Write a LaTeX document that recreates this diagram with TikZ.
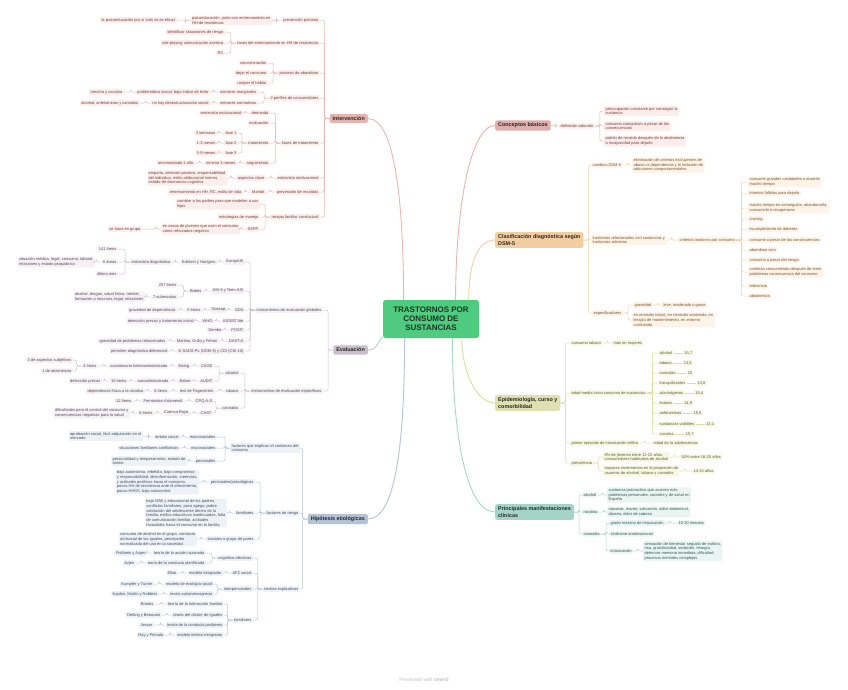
\documentclass[tikz,border=0pt]{standalone}
\usepackage{fontspec}
\setmainfont{Liberation Sans}
\usepackage{xcolor}
\definecolor{cRoot}{HTML}{4FCB7F}
\definecolor{cRootText}{HTML}{1C3526}
\definecolor{cIntLine}{HTML}{E6B7B3}
\definecolor{cIntFill}{HTML}{FBEFEE}
\definecolor{cIntText}{HTML}{7A3B36}
\definecolor{cIntMain}{HTML}{E3B5B1}
\definecolor{cEvLine}{HTML}{CCC1CC}
\definecolor{cEvFill}{HTML}{F4F0F4}
\definecolor{cEvText}{HTML}{5A4A5A}
\definecolor{cEvMain}{HTML}{CABECB}
\definecolor{cHipLine}{HTML}{B4C4D6}
\definecolor{cHipFill}{HTML}{EEF2F7}
\definecolor{cHipText}{HTML}{3E4E60}
\definecolor{cHipMain}{HTML}{B3C3D4}
\definecolor{cConLine}{HTML}{E8B4B0}
\definecolor{cConFill}{HTML}{FBEDEC}
\definecolor{cConText}{HTML}{7A3B36}
\definecolor{cConMain}{HTML}{DFAFAB}
\definecolor{cClaLine}{HTML}{F4D2A6}
\definecolor{cClaFill}{HTML}{FDF4E9}
\definecolor{cClaText}{HTML}{7A5428}
\definecolor{cClaMain}{HTML}{F2CDA0}
\definecolor{cEpiLine}{HTML}{DCDDA2}
\definecolor{cEpiFill}{HTML}{F7F7E6}
\definecolor{cEpiText}{HTML}{5E5E2C}
\definecolor{cEpiMain}{HTML}{DEE0B0}
\definecolor{cPriLine}{HTML}{A9D7CA}
\definecolor{cPriFill}{HTML}{EAF5F2}
\definecolor{cPriText}{HTML}{2F5A50}
\definecolor{cPriMain}{HTML}{A3D5C6}
\usepackage{tikz}
\usetikzlibrary{positioning}
\tikzset{
  node-leaf/.style={rounded corners=1.2pt,inner xsep=1.4pt,inner ysep=1.1pt,
    align=left,font=\fontsize{4}{4.7}\selectfont},
  node-topic/.style={rounded corners=2pt,inner xsep=3pt,inner ysep=2.6pt,
    align=left,text=black!85,font=\fontsize{5.4}{6.4}\selectfont\bfseries},
  node-root/.style={rounded corners=2.5pt,fill=cRoot,text=cRootText,align=center,
    minimum width=96pt,minimum height=38pt,font=\fontsize{8}{9.2}\selectfont\bfseries},
  % una rama por color, como en el mapa
  leaf-int/.style={node-leaf,fill=cIntFill,text=cIntText,anchor=east},
  leaf-ev/.style={node-leaf,fill=cEvFill,text=cEvText,anchor=east},
  leaf-hip/.style={node-leaf,fill=cHipFill,text=cHipText,anchor=east},
  leaf-con/.style={node-leaf,fill=cConFill,text=cConText,anchor=west},
  leaf-cla/.style={node-leaf,fill=cClaFill,text=cClaText,anchor=west},
  leaf-epi/.style={node-leaf,fill=cEpiFill,text=cEpiText,anchor=west},
  leaf-pri/.style={node-leaf,fill=cPriFill,text=cPriText,anchor=west},
  link-int/.style={draw=cIntLine,line width=0.5pt},
  link-ev/.style={draw=cEvLine,line width=0.5pt},
  link-hip/.style={draw=cHipLine,line width=0.5pt},
  link-con/.style={draw=cConLine,line width=0.5pt},
  link-cla/.style={draw=cClaLine,line width=0.5pt},
  link-epi/.style={draw=cEpiLine,line width=0.5pt},
  link-pri/.style={draw=cPriLine,line width=0.5pt},
  go-left/.style={rounded corners=2pt,to path={(\tikztostart) -- ++(-5,0) |- (\tikztotarget)}},
  go-right/.style={rounded corners=2pt,to path={(\tikztostart) -- ++(5,0) |- (\tikztotarget)}},
}
\begin{document}
\begin{tikzpicture}[x=1pt,y=-1pt]
  \fill[white] (0,0) rectangle (848,689);
  \useasboundingbox (0,0) rectangle (848,689);

  \node[node-root] (root) at (431,319) {TRASTORNOS POR\\CONSUMO DE\\SUSTANCIAS};

  % Intervención
  \node[node-topic,fill=cIntMain,anchor=east] (int) at (368,118.5) {Intervención};
  \node[leaf-int] (int-pp) at (320,20) {prevención primaria};
  \node[leaf-int] (int-pp1) at (272,20.5) {psicoeducación, junto con entrenamiento en\\HH de resistencia};
  \node[leaf-int] (int-pp2) at (177,20) {la psicoeducación por sí sola no es eficaz};
  \node[leaf-int] (int-fe) at (320,43) {fases del entrenamiento en HH de resistencia};
  \node[leaf-int] (int-fe1) at (225,32) {identificar situaciones de riesgo};
  \node[leaf-int] (int-fe2) at (225,43) {role-playing comunicación asertiva};
  \node[leaf-int] (int-fe3) at (225,53) {RC};
  \node[leaf-int] (int-pa) at (320,73) {proceso de abandono};
  \node[leaf-int] (int-pa1) at (268,63) {concienciación};
  \node[leaf-int] (int-pa2) at (268,73) {dejar el consumo};
  \node[leaf-int] (int-pa3) at (268,83) {romper el hábito};
  \node[leaf-int] (int-pc) at (320,98) {2 perfiles de consumidores};
  \node[leaf-int] (int-pc1) at (258,92) {menores marginales};
  \node[leaf-int] (int-pc1a) at (210,92) {problemática social, bajo índice de éxito};
  \node[leaf-int] (int-pc1b) at (124,92) {heroína y cocaína};
  \node[leaf-int] (int-pc2) at (258,103) {menores normativos};
  \node[leaf-int] (int-pc2a) at (210,103) {no hay desestructuración social};
  \node[leaf-int] (int-pc2b) at (140,103) {alcohol, anfetaminas y cannabis};
  \node[leaf-int] (int-ft) at (320,143) {fases de tratamiento};
  \node[leaf-int] (int-ft1) at (270,113) {demanda};
  \node[leaf-int] (int-ft1a) at (243,113) {entrevista motivacional};
  \node[leaf-int] (int-ft2) at (270,123) {evaluación};
  \node[leaf-int] (int-ft3) at (270,143) {tratamiento};
  \node[leaf-int] (int-f1) at (238,133) {fase 1};
  \node[leaf-int] (int-f1a) at (217,133) {3 semanas};
  \node[leaf-int] (int-f2) at (238,143) {fase 2};
  \node[leaf-int] (int-f2a) at (217,143) {1-3 meses};
  \node[leaf-int] (int-f3) at (238,153) {fase 3};
  \node[leaf-int] (int-f3a) at (217,153) {3-9 meses};
  \node[leaf-int] (int-ft4) at (270,163) {seguimiento};
  \node[leaf-int] (int-ft4a) at (237,163) {mínimo 3 meses};
  \node[leaf-int] (int-ft4b) at (195,163) {recomendado 1 año};
  \node[leaf-int] (int-em) at (320,178) {entrevista motivacional};
  \node[leaf-int] (int-em1) at (266,178) {aspectos clave};
  \node[leaf-int] (int-em1a) at (227,178) {empatía, atención positiva, responsabilidad\\del individuo, estilo atribucional interno,\\estado de disonancia cognitiva};
  \node[leaf-int] (int-pr) at (320,192) {prevención de recaídas};
  \node[leaf-int] (int-pr1) at (266,192) {Marlatt};
  \node[leaf-int] (int-pr1a) at (243,192) {entrenamiento en HH, RC, estilo de vida};
  \node[leaf-int] (int-tf) at (320,217) {terapia familiar conductual};
  \node[leaf-int] (int-tf1) at (260,204) {cambiar a los padres para que modelen a sus\\hijos};
  \node[leaf-int] (int-tf2) at (260,217) {estrategias de manejo};
  \node[leaf-int] (int-tf3) at (260,229) {SSPP};
  \node[leaf-int] (int-tf3a) at (240,229) {en casos de jóvenes que usen el consumo\\como reforzados negativo};
  \node[leaf-int] (int-tf3b) at (142,229) {se hace en grupo};

  \path[link-int] (int.west) edge[go-left] (int-pp.east) edge[go-left] (int-fe.east)
    edge[go-left] (int-pa.east) edge[go-left] (int-pc.east) edge[go-left] (int-ft.east)
    edge[go-left] (int-em.east) edge[go-left] (int-pr.east) edge[go-left] (int-tf.east);
  \path[link-int] (int-pp.west) edge[go-left] (int-pp1.east);
  \path[link-int] (int-pp1.west) edge[go-left] (int-pp2.east);
  \path[link-int] (int-fe.west) edge[go-left] (int-fe1.east) edge[go-left] (int-fe2.east) edge[go-left] (int-fe3.east);
  \path[link-int] (int-pa.west) edge[go-left] (int-pa1.east) edge[go-left] (int-pa2.east) edge[go-left] (int-pa3.east);
  \path[link-int] (int-pc.west) edge[go-left] (int-pc1.east) edge[go-left] (int-pc2.east);
  \path[link-int] (int-pc1.west) edge[go-left] (int-pc1a.east);
  \path[link-int] (int-pc1a.west) edge[go-left] (int-pc1b.east);
  \path[link-int] (int-pc2.west) edge[go-left] (int-pc2a.east);
  \path[link-int] (int-pc2a.west) edge[go-left] (int-pc2b.east);
  \path[link-int] (int-ft.west) edge[go-left] (int-ft1.east) edge[go-left] (int-ft2.east)
    edge[go-left] (int-ft3.east) edge[go-left] (int-ft4.east);
  \path[link-int] (int-ft1.west) edge[go-left] (int-ft1a.east);
  \path[link-int] (int-ft3.west) edge[go-left] (int-f1.east) edge[go-left] (int-f2.east) edge[go-left] (int-f3.east);
  \path[link-int] (int-f1.west) edge[go-left] (int-f1a.east);
  \path[link-int] (int-f2.west) edge[go-left] (int-f2a.east);
  \path[link-int] (int-f3.west) edge[go-left] (int-f3a.east);
  \path[link-int] (int-ft4.west) edge[go-left] (int-ft4a.east);
  \path[link-int] (int-ft4a.west) edge[go-left] (int-ft4b.east);
  \path[link-int] (int-em.west) edge[go-left] (int-em1.east);
  \path[link-int] (int-em1.west) edge[go-left] (int-em1a.east);
  \path[link-int] (int-pr.west) edge[go-left] (int-pr1.east);
  \path[link-int] (int-pr1.west) edge[go-left] (int-pr1a.east);
  \path[link-int] (int-tf.west) edge[go-left] (int-tf1.east) edge[go-left] (int-tf2.east) edge[go-left] (int-tf3.east);
  \path[link-int] (int-tf3.west) edge[go-left] (int-tf3a.east);
  \path[link-int] (int-tf3a.west) edge[go-left] (int-tf3b.east);

  % Evaluación
  \node[node-topic,fill=cEvMain,anchor=east] (ev) at (368,350) {Evaluación};
  \node[leaf-ev] (ev-ig) at (323,310) {instrumentos de evaluación globales};
  \node[leaf-ev] (ev-eu) at (245,262) {EuropASI};
  \node[leaf-ev] (ev-eu1) at (217,262) {Kokkevi y Hartgers};
  \node[leaf-ev] (ev-eu2) at (172,262) {entrevista diagnóstica};
  \node[leaf-ev] (ev-eu3) at (118,249) {141 ítems};
  \node[leaf-ev] (ev-eu4) at (118,262) {6 áreas};
  \node[leaf-ev] (ev-eu4a) at (95,262) {situación médica, legal, consumo, laboral,\\relaciones y estado psiquiátrico};
  \node[leaf-ev] (ev-eu5) at (118,274) {último mes};
  \node[leaf-ev] (ev-as) at (245,291) {ASI-6 y Teen-ASI};
  \node[leaf-ev] (ev-as1) at (203,291) {Bobes};
  \node[leaf-ev] (ev-as2) at (178,285) {257 ítems};
  \node[leaf-ev] (ev-as3) at (178,297) {7 subescalas};
  \node[leaf-ev] (ev-as3a) at (145,297) {alcohol, drogas, salud física, mental,\\formación o recursos, legal, relaciones};
  \node[leaf-ev] (ev-sd) at (245,310) {SDS};
  \node[leaf-ev] (ev-sd1) at (227,310) {Gossop};
  \node[leaf-ev] (ev-sd2) at (202,310) {5 ítems};
  \node[leaf-ev] (ev-sd3) at (177,310) {gravedad de dependencia};
  \node[leaf-ev] (ev-al) at (245,321) {ASSIST-lite};
  \node[leaf-ev] (ev-al1) at (214,321) {WHO};
  \node[leaf-ev] (ev-al2) at (195,321) {detección precoz y tratamiento inicial};
  \node[leaf-ev] (ev-po) at (245,330) {POSIT};
  \node[leaf-ev] (ev-po1) at (223,330) {Dembo};
  \node[leaf-ev] (ev-da) at (245,341) {DAST-A};
  \node[leaf-ev] (ev-da1) at (219,341) {Martino, Grillo y Fehon};
  \node[leaf-ev] (ev-da2) at (167,341) {gravedad de problemas relacionados};
  \node[leaf-ev] (ev-ks) at (245,351) {K-SADS-PL (DSM-5) y CDI (CIE-10)};
  \node[leaf-ev] (ev-ks1) at (169,351) {permiten diagnóstico diferencial};
  \node[leaf-ev] (ev-ie) at (323,391) {instrumentos de evaluación específicos};
  \node[leaf-ev] (ev-alc) at (240,373) {alcohol};
  \node[leaf-ev] (ev-tab) at (240,391) {tabaco};
  \node[leaf-ev] (ev-can) at (240,408) {cannabis};
  \node[leaf-ev] (ev-cage) at (214,366) {CAGE};
  \node[leaf-ev] (ev-cage1) at (191,366) {Ewing};
  \node[leaf-ev] (ev-cage2) at (169,366) {cuestionario heteroadministrado};
  \node[leaf-ev] (ev-cage3) at (98,366) {4 ítems};
  \node[leaf-ev] (ev-cage4) at (73,360) {3 de aspectos subjetivos};
  \node[leaf-ev] (ev-cage5) at (73,371) {1 de abstinencia};
  \node[leaf-ev] (ev-aud) at (214,381) {AUDIT};
  \node[leaf-ev] (ev-aud1) at (192,381) {Babor};
  \node[leaf-ev] (ev-aud2) at (170,381) {autoadministrado};
  \node[leaf-ev] (ev-aud3) at (128,381) {10 ítems};
  \node[leaf-ev] (ev-aud4) at (102,381) {detección precoz};
  \node[leaf-ev] (ev-fag) at (215,391) {test de Fagerström};
  \node[leaf-ev] (ev-fag1) at (169,391) {6 ítems};
  \node[leaf-ev] (ev-fag2) at (145,391) {dependencia física a la nicotina};
  \node[leaf-ev] (ev-cpq) at (214,401) {CPQ-A-S};
  \node[leaf-ev] (ev-cpq1) at (184,401) {Fernández-Artamendi};
  \node[leaf-ev] (ev-cpq2) at (133,401) {12 ítems};
  \node[leaf-ev] (ev-cast) at (213,413) {CAST};
  \node[leaf-ev] (ev-cast1) at (190,413) {Cuenca-Royo};
  \node[leaf-ev] (ev-cast2) at (154,413) {6 ítems};
  \node[leaf-ev] (ev-cast3) at (130,413) {dificultades para el control del consumo y\\consecuencias negativas para la salud};

  \path[link-ev] (ev.west) edge[go-left] (ev-ig.east) edge[go-left] (ev-ie.east);
  \path[link-ev] (ev-ig.west) edge[go-left] (ev-eu.east) edge[go-left] (ev-as.east) edge[go-left] (ev-sd.east)
    edge[go-left] (ev-al.east) edge[go-left] (ev-po.east) edge[go-left] (ev-da.east) edge[go-left] (ev-ks.east);
  \path[link-ev] (ev-eu.west) edge[go-left] (ev-eu1.east);
  \path[link-ev] (ev-eu1.west) edge[go-left] (ev-eu2.east);
  \path[link-ev] (ev-eu2.west) edge[go-left] (ev-eu3.east) edge[go-left] (ev-eu4.east) edge[go-left] (ev-eu5.east);
  \path[link-ev] (ev-eu4.west) edge[go-left] (ev-eu4a.east);
  \path[link-ev] (ev-as.west) edge[go-left] (ev-as1.east);
  \path[link-ev] (ev-as1.west) edge[go-left] (ev-as2.east) edge[go-left] (ev-as3.east);
  \path[link-ev] (ev-as3.west) edge[go-left] (ev-as3a.east);
  \path[link-ev] (ev-sd.west) edge[go-left] (ev-sd1.east);
  \path[link-ev] (ev-sd1.west) edge[go-left] (ev-sd2.east);
  \path[link-ev] (ev-sd2.west) edge[go-left] (ev-sd3.east);
  \path[link-ev] (ev-al.west) edge[go-left] (ev-al1.east);
  \path[link-ev] (ev-al1.west) edge[go-left] (ev-al2.east);
  \path[link-ev] (ev-po.west) edge[go-left] (ev-po1.east);
  \path[link-ev] (ev-da.west) edge[go-left] (ev-da1.east);
  \path[link-ev] (ev-da1.west) edge[go-left] (ev-da2.east);
  \path[link-ev] (ev-ks.west) edge[go-left] (ev-ks1.east);
  \path[link-ev] (ev-ie.west) edge[go-left] (ev-alc.east) edge[go-left] (ev-tab.east) edge[go-left] (ev-can.east);
  \path[link-ev] (ev-alc.west) edge[go-left] (ev-cage.east) edge[go-left] (ev-aud.east);
  \path[link-ev] (ev-cage.west) edge[go-left] (ev-cage1.east);
  \path[link-ev] (ev-cage1.west) edge[go-left] (ev-cage2.east);
  \path[link-ev] (ev-cage2.west) edge[go-left] (ev-cage3.east);
  \path[link-ev] (ev-cage3.west) edge[go-left] (ev-cage4.east) edge[go-left] (ev-cage5.east);
  \path[link-ev] (ev-aud.west) edge[go-left] (ev-aud1.east);
  \path[link-ev] (ev-aud1.west) edge[go-left] (ev-aud2.east);
  \path[link-ev] (ev-aud2.west) edge[go-left] (ev-aud3.east);
  \path[link-ev] (ev-aud3.west) edge[go-left] (ev-aud4.east);
  \path[link-ev] (ev-tab.west) edge[go-left] (ev-fag.east);
  \path[link-ev] (ev-fag.west) edge[go-left] (ev-fag1.east);
  \path[link-ev] (ev-fag1.west) edge[go-left] (ev-fag2.east);
  \path[link-ev] (ev-can.west) edge[go-left] (ev-cpq.east) edge[go-left] (ev-cast.east);
  \path[link-ev] (ev-cpq.west) edge[go-left] (ev-cpq1.east);
  \path[link-ev] (ev-cpq1.west) edge[go-left] (ev-cpq2.east);
  \path[link-ev] (ev-cast.west) edge[go-left] (ev-cast1.east);
  \path[link-ev] (ev-cast1.west) edge[go-left] (ev-cast2.east);
  \path[link-ev] (ev-cast2.west) edge[go-left] (ev-cast3.east);

  % Hipótesis etiológicas
  \node[node-topic,fill=cHipMain,anchor=east] (hip) at (368,519) {Hipótesis etiológicas};
  \node[leaf-hip] (hip-fc) at (300,448) {factores que explican el comienzo del\\consumo};
  \node[leaf-hip] (hip-ma) at (217,437) {macrosociales};
  \node[leaf-hip] (hip-ma1) at (180,437) {ámbito social};
  \node[leaf-hip] (hip-ma2) at (143,436) {aprobación social, fácil adquisición en el\\mercado};
  \node[leaf-hip] (hip-mi) at (217,448) {microsociales};
  \node[leaf-hip] (hip-mi1) at (180,448) {situaciones familiares conflictivas};
  \node[leaf-hip] (hip-pe) at (217,461) {personales};
  \node[leaf-hip] (hip-pe1) at (187,461) {personalidad y temperamento, estado de\\ánimo};
  \node[leaf-hip] (hip-fr) at (300,513) {factores de riesgo};
  \node[leaf-hip] (hip-fr1) at (255,482) {personales/psicológicos};
  \node[leaf-hip] (hip-fr1a) at (199,482) {baja autoestima, rebeldía, bajo compromiso\\y responsabilidad, desinformación, creencias\\y actitudes positivas hacia el consumo,\\pocas HH de resistencia ante el ofrecimiento,\\pocas HHSS, bajo autocontrol};
  \node[leaf-hip] (hip-fr2) at (255,513) {familiares};
  \node[leaf-hip] (hip-fr2a) at (227,513) {bajo NSE y educacional de los padres,\\conflictos familiares, poco apego, pobre\\valoración del adolescente dentro de la\\familia, estilos educativos inadecuados, falta\\de comunicación familiar, actitudes\\favorables hacia el consumo en la familia};
  \node[leaf-hip] (hip-fr3) at (255,539) {sociales o grupo de pares};
  \node[leaf-hip] (hip-fr3a) at (197,539) {consumo de alcohol en el grupo, conducta\\antisocial de los iguales, percepción\\normalizada del uso en la sociedad};
  \node[leaf-hip] (hip-te) at (300,589) {teorías explicativas};
  \node[leaf-hip] (hip-ca) at (253,558) {cognitivo-afectivas};
  \node[leaf-hip] (hip-ca1) at (206,553) {teoría de la acción razonada};
  \node[leaf-hip] (hip-ca1a) at (147,553) {Fishbein y Azjen};
  \node[leaf-hip] (hip-ca2) at (206,563) {eoría de la conducta planificada};
  \node[leaf-hip] (hip-ca2a) at (136,563) {Azjen};
  \node[leaf-hip] (hip-af) at (253,573) {AFZ social};
  \node[leaf-hip] (hip-af1) at (223,573) {modelo integrador};
  \node[leaf-hip] (hip-af2) at (178,573) {Elliot};
  \node[leaf-hip] (hip-ip) at (253,589) {interpersonales};
  \node[leaf-hip] (hip-ip1) at (214,584) {modelo de ecología social};
  \node[leaf-hip] (hip-ip1a) at (154,584) {Kumpfer y Turner};
  \node[leaf-hip] (hip-ip2) at (214,594) {teoría automenosprecio};
  \node[leaf-hip] (hip-ip2a) at (159,594) {Kaplan, Martin y Robbins};
  \node[leaf-hip] (hip-fa) at (253,620) {familiares};
  \node[leaf-hip] (hip-fa1) at (224,604) {teoría de la interacción familiar};
  \node[leaf-hip] (hip-fa1a) at (155,604) {Brooks};
  \node[leaf-hip] (hip-fa2) at (224,615) {teoría del clúster de iguales};
  \node[leaf-hip] (hip-fa2a) at (162,615) {Oetting y Beauvais};
  \node[leaf-hip] (hip-fa3) at (224,625) {teoría de la conducta problema};
  \node[leaf-hip] (hip-fa3a) at (154,625) {Jessor};
  \node[leaf-hip] (hip-fa4) at (224,635) {modelo teórico integrador};
  \node[leaf-hip] (hip-fa4a) at (165,635) {Ray y Peinato};

  \path[link-hip] (hip.west) edge[go-left] (hip-fc.east) edge[go-left] (hip-fr.east) edge[go-left] (hip-te.east);
  \path[link-hip] (hip-fc.west) edge[go-left] (hip-ma.east) edge[go-left] (hip-mi.east) edge[go-left] (hip-pe.east);
  \path[link-hip] (hip-ma.west) edge[go-left] (hip-ma1.east);
  \path[link-hip] (hip-ma1.west) edge[go-left] (hip-ma2.east);
  \path[link-hip] (hip-mi.west) edge[go-left] (hip-mi1.east);
  \path[link-hip] (hip-pe.west) edge[go-left] (hip-pe1.east);
  \path[link-hip] (hip-fr.west) edge[go-left] (hip-fr1.east) edge[go-left] (hip-fr2.east) edge[go-left] (hip-fr3.east);
  \path[link-hip] (hip-fr1.west) edge[go-left] (hip-fr1a.east);
  \path[link-hip] (hip-fr2.west) edge[go-left] (hip-fr2a.east);
  \path[link-hip] (hip-fr3.west) edge[go-left] (hip-fr3a.east);
  \path[link-hip] (hip-te.west) edge[go-left] (hip-ca.east) edge[go-left] (hip-af.east)
    edge[go-left] (hip-ip.east) edge[go-left] (hip-fa.east);
  \path[link-hip] (hip-ca.west) edge[go-left] (hip-ca1.east) edge[go-left] (hip-ca2.east);
  \path[link-hip] (hip-ca1.west) edge[go-left] (hip-ca1a.east);
  \path[link-hip] (hip-ca2.west) edge[go-left] (hip-ca2a.east);
  \path[link-hip] (hip-af.west) edge[go-left] (hip-af1.east);
  \path[link-hip] (hip-af1.west) edge[go-left] (hip-af2.east);
  \path[link-hip] (hip-ip.west) edge[go-left] (hip-ip1.east) edge[go-left] (hip-ip2.east);
  \path[link-hip] (hip-ip1.west) edge[go-left] (hip-ip1a.east);
  \path[link-hip] (hip-ip2.west) edge[go-left] (hip-ip2a.east);
  \path[link-hip] (hip-fa.west) edge[go-left] (hip-fa1.east) edge[go-left] (hip-fa2.east)
    edge[go-left] (hip-fa3.east) edge[go-left] (hip-fa4.east);
  \path[link-hip] (hip-fa1.west) edge[go-left] (hip-fa1a.east);
  \path[link-hip] (hip-fa2.west) edge[go-left] (hip-fa2a.east);
  \path[link-hip] (hip-fa3.west) edge[go-left] (hip-fa3a.east);
  \path[link-hip] (hip-fa4.west) edge[go-left] (hip-fa4a.east);

  % Conceptos básicos
  \node[node-topic,fill=cConMain,anchor=west] (con) at (495,125.5) {Conceptos básicos};
  \node[leaf-con] (con-de) at (559,126) {definición adicción};
  \node[leaf-con] (con-de1) at (604,111) {preocupación constante por conseguir la\\sustancia};
  \node[leaf-con] (con-de2) at (604,126) {consumo compulsivo a pesar de las\\consecuencias};
  \node[leaf-con] (con-de3) at (604,141) {patrón de recaída después de la abstinencia\\o incapacidad para dejarlo};
  \path[link-con] (con.east) edge[go-right] (con-de.west);
  \path[link-con] (con-de.east) edge[go-right] (con-de1.west) edge[go-right] (con-de2.west) edge[go-right] (con-de3.west);

  % Clasificación diagnóstica
  \node[node-topic,fill=cClaMain,anchor=west] (cla) at (495,240) {Clasificación diagnóstica según\\DSM-5};
  \node[leaf-cla] (cla-ca) at (591,165) {cambios DSM-5};
  \node[leaf-cla] (cla-ca1) at (632,165) {eliminación de criterios excluyentes de\\abuso vs dependencia y la inclusión de\\adicciones comportamentales};
  \node[leaf-cla] (cla-tr) at (591,240) {trastornos relacionados con sustancias y\\trastornos adictivos};
  \node[leaf-cla] (cla-cr) at (678,240) {criterios trastorno por consumo};
  \node[leaf-cla] (cla-c1) at (748,182) {consume grandes cantidades o durante\\mucho tiempo};
  \node[leaf-cla] (cla-c2) at (748,193) {intentos fallidos para dejarlo};
  \node[leaf-cla] (cla-c3) at (748,208) {mucho tiempo en conseguirla, abandonarla,\\consumirla o recuperarse};
  \node[leaf-cla] (cla-c4) at (748,219) {craving};
  \node[leaf-cla] (cla-c5) at (748,229) {incumplimiento de deberes};
  \node[leaf-cla] (cla-c6) at (748,240) {consume a pesar de las consecuencias};
  \node[leaf-cla] (cla-c7) at (748,250) {abandono ocio};
  \node[leaf-cla] (cla-c8) at (748,260) {consumo a pesar del riesgo};
  \node[leaf-cla] (cla-c9) at (748,272) {continúa consumiendo después de tener\\problemas consecuencia del consumo};
  \node[leaf-cla] (cla-c10) at (748,286) {tolerancia};
  \node[leaf-cla] (cla-c11) at (748,296) {abstinencia};
  \node[leaf-cla] (cla-es) at (592,313) {especificadores};
  \node[leaf-cla] (cla-es1) at (633,305) {gravedad};
  \node[leaf-cla] (cla-es1a) at (662,305) {leve, moderado o grave};
  \node[leaf-cla] (cla-es2) at (632,320) {en remisión inicial, en remisión sostenida, en\\terapia de mantenimiento, en entorno\\controlado};
  \path[link-cla] (cla.east) edge[go-right] (cla-ca.west) edge[go-right] (cla-tr.west) edge[go-right] (cla-es.west);
  \path[link-cla] (cla-ca.east) edge[go-right] (cla-ca1.west);
  \path[link-cla] (cla-tr.east) edge[go-right] (cla-cr.west);
  \path[link-cla] (cla-cr.east) edge[go-right] (cla-c1.west) edge[go-right] (cla-c2.west) edge[go-right] (cla-c3.west)
    edge[go-right] (cla-c4.west) edge[go-right] (cla-c5.west) edge[go-right] (cla-c6.west)
    edge[go-right] (cla-c7.west) edge[go-right] (cla-c8.west) edge[go-right] (cla-c9.west)
    edge[go-right] (cla-c10.west) edge[go-right] (cla-c11.west);
  \path[link-cla] (cla-es.east) edge[go-right] (cla-es1.west) edge[go-right] (cla-es2.west);
  \path[link-cla] (cla-es1.east) edge[go-right] (cla-es1a.west);

  % Epidemiología
  \node[node-topic,fill=cEpiMain,anchor=west] (epi) at (495,403) {Epidemiología, curso y\\comorbilidad};
  \node[leaf-epi] (epi-ct) at (570,343) {consumo tabaco};
  \node[leaf-epi] (epi-ct1) at (612,343) {más en mujeres};
  \node[leaf-epi] (epi-em) at (570,393) {edad media inicio consumo de sustancias};
  \node[leaf-epi] (epi-e1) at (658,353) {alcohol};
  \node[leaf-epi] (epi-e2) at (658,363) {tabaco};
  \node[leaf-epi] (epi-e3) at (658,373) {cannabis};
  \node[leaf-epi] (epi-e4) at (658,383) {tranquilizantes};
  \node[leaf-epi] (epi-e5) at (658,393) {alucinógenos};
  \node[leaf-epi] (epi-e6) at (658,403) {éxtasis};
  \node[leaf-epi] (epi-e7) at (658,413) {anfetaminas};
  \node[leaf-epi] (epi-e8) at (658,424) {sustancias volátiles};
  \node[leaf-epi] (epi-e9) at (658,434) {cocaína};
  \node[leaf-epi,right=9pt of epi-e1] (epi-v1) {15,7};
  \node[leaf-epi,right=9pt of epi-e2] (epi-v2) {13,5};
  \node[leaf-epi,right=9pt of epi-e3] (epi-v3) {15};
  \node[leaf-epi,right=9pt of epi-e4] (epi-v4) {13,8};
  \node[leaf-epi,right=9pt of epi-e5] (epi-v5) {15,4};
  \node[leaf-epi,right=9pt of epi-e6] (epi-v6) {14,9};
  \node[leaf-epi,right=9pt of epi-e7] (epi-v7) {15,5};
  \node[leaf-epi,right=9pt of epi-e8] (epi-v8) {13,1};
  \node[leaf-epi,right=9pt of epi-e9] (epi-v9) {15,7};
  \node[leaf-epi] (epi-pe) at (570,443) {primer episodio de intoxicación etílica};
  \node[leaf-epi] (epi-pe1) at (652,443) {mitad de la adolescencia};
  \node[leaf-epi] (epi-pv) at (570,463) {prevalencia};
  \node[leaf-epi] (epi-pv1) at (603,457) {8\% de jóvenes entre 12-15 años,\\consumidores habituales de alcohol};
  \node[leaf-epi] (epi-pv1a) at (680,457) {50\% entre 16-20 años};
  \node[leaf-epi] (epi-pv2) at (603,471) {mayores incrementos en la proporción de\\usuarios de alcohol, tabaco y cannabis};
  \node[leaf-epi] (epi-pv2a) at (692,471) {14-15 años};
  \path[link-epi] (epi.east) edge[go-right] (epi-ct.west) edge[go-right] (epi-em.west)
    edge[go-right] (epi-pe.west) edge[go-right] (epi-pv.west);
  \path[link-epi] (epi-ct.east) edge[go-right] (epi-ct1.west);
  \path[link-epi] (epi-em.east) edge[go-right] (epi-e1.west) edge[go-right] (epi-e2.west) edge[go-right] (epi-e3.west)
    edge[go-right] (epi-e4.west) edge[go-right] (epi-e5.west) edge[go-right] (epi-e6.west)
    edge[go-right] (epi-e7.west) edge[go-right] (epi-e8.west) edge[go-right] (epi-e9.west);
  \draw[link-epi] (epi-e1) -- (epi-v1) (epi-e2) -- (epi-v2) (epi-e3) -- (epi-v3)
    (epi-e4) -- (epi-v4) (epi-e5) -- (epi-v5) (epi-e6) -- (epi-v6)
    (epi-e7) -- (epi-v7) (epi-e8) -- (epi-v8) (epi-e9) -- (epi-v9);
  \path[link-epi] (epi-pe.east) edge[go-right] (epi-pe1.west);
  \path[link-epi] (epi-pv.east) edge[go-right] (epi-pv1.west) edge[go-right] (epi-pv2.west);
  \path[link-epi] (epi-pv1.east) edge[go-right] (epi-pv1a.west);
  \path[link-epi] (epi-pv2.east) edge[go-right] (epi-pv2a.west);

  % Principales manifestaciones
  \node[node-topic,fill=cPriMain,anchor=west] (pri) at (495,512) {Principales manifestaciones\\clínicas};
  \node[leaf-pri] (pri-al) at (582,495) {alcohol};
  \node[leaf-pri] (pri-al1) at (607,495) {sustancia psicoactiva que acarrea más\\problemas personales, sociales y de salud en\\España};
  \node[leaf-pri] (pri-ni) at (582,512) {nicotina};
  \node[leaf-pri] (pri-ni1) at (607,512) {náuseas, mareo, salivación, dolor abdominal,\\diarrea, dolor de cabeza};
  \node[leaf-pri] (pri-ca) at (582,534) {cannabis};
  \node[leaf-pri] (pri-ca1) at (609,523) {grado máximo de intoxicación};
  \node[leaf-pri] (pri-ca1a) at (677,523) {10-30 minutos};
  \node[leaf-pri] (pri-ca2) at (609,534) {síndrome amotivacional};
  \node[leaf-pri] (pri-ca3) at (609,551) {intoxicación};
  \node[leaf-pri] (pri-ca3a) at (643,551) {sensación de bienestar seguido de euforia,\\risa, grandiosidad, sedación, letargia,\\deterioro memoria inmediata, dificultad\\procesos mentales complejos};
  \path[link-pri] (pri.east) edge[go-right] (pri-al.west) edge[go-right] (pri-ni.west) edge[go-right] (pri-ca.west);
  \path[link-pri] (pri-al.east) edge[go-right] (pri-al1.west);
  \path[link-pri] (pri-ni.east) edge[go-right] (pri-ni1.west);
  \path[link-pri] (pri-ca.east) edge[go-right] (pri-ca1.west) edge[go-right] (pri-ca2.west) edge[go-right] (pri-ca3.west);
  \path[link-pri] (pri-ca1.east) edge[go-right] (pri-ca1a.west);
  \path[link-pri] (pri-ca3.east) edge[go-right] (pri-ca3a.west);

  % del centro a los temas principales
  \draw[link-int,line width=0.9pt] (int.east) .. controls +(28,0) and +(0,-90) .. (root.145);
  \draw[link-con,line width=0.9pt] (con.west) .. controls +(-25,0) and +(0,-90) .. (root.38);
  \draw[link-cla,line width=0.9pt] (cla.west) .. controls +(-20,0) and +(0,-30) .. (root.27);
  \draw[link-ev,line width=0.9pt] (ev.east) .. controls +(10,0) and +(-6,6) .. (root.200);
  \draw[link-hip,line width=0.9pt] (hip.east) .. controls +(30,0) and +(0,90) .. (root.216);
  \draw[link-epi,line width=0.9pt] (epi.west) .. controls +(-20,0) and +(0,30) .. (root.328);
  \draw[link-pri,line width=0.9pt] (pri.west) .. controls +(-30,0) and +(0,90) .. (root.318);

  \node[font=\fontsize{5}{6}\selectfont,text=black!25] (foot) at (424,680) {Presented with \textbf{xmind}};
\end{tikzpicture}
\end{document}
